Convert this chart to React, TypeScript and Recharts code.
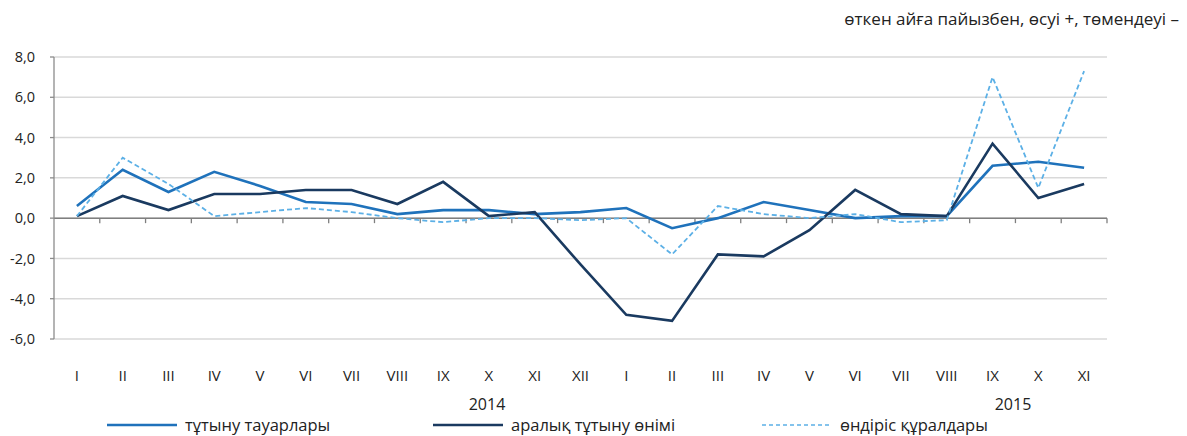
import React from 'react';
import {
  LineChart,
  Line,
  XAxis,
  YAxis,
  CartesianGrid,
  ReferenceLine,
} from 'recharts';

const MONTHS = ['I', 'II', 'III', 'IV', 'V', 'VI', 'VII', 'VIII', 'IX', 'X', 'XI', 'XII',
  'I', 'II', 'III', 'IV', 'V', 'VI', 'VII', 'VIII', 'IX', 'X', 'XI'];

// тұтыну тауарлары
const consumerGoods = [0.6, 2.4, 1.3, 2.3, 1.6, 0.8, 0.7, 0.2, 0.4, 0.4, 0.2, 0.3,
  0.5, -0.5, 0.0, 0.8, 0.4, 0.0, 0.1, 0.1, 2.6, 2.8, 2.5];
// аралық тұтыну өнімі
const intermediateGoods = [0.1, 1.1, 0.4, 1.2, 1.2, 1.4, 1.4, 0.7, 1.8, 0.1, 0.3, -2.3,
  -4.8, -5.1, -1.8, -1.9, -0.6, 1.4, 0.2, 0.1, 3.7, 1.0, 1.7];
// өндіріс құралдары
const capitalGoods = [0.1, 3.0, 1.7, 0.1, 0.3, 0.5, 0.3, 0.0, -0.2, 0.0, 0.0, -0.1,
  0.0, -1.8, 0.6, 0.2, 0.0, 0.2, -0.2, -0.1, 7.0, 1.5, 7.3];

const Y_TICKS = [-6, -4, -2, 0, 2, 4, 6, 8];

const SERIES_NAMES = ['тұтыну тауарлары', 'аралық тұтыну өнімі', 'өндіріс құралдары'];
const YEARS = ['2014', '2015'];
const UNIT_NOTE = 'өткен айға пайызбен, өсуі +, төмендеуі –';

const C_MID = '#1f72bb';
const C_DARK = '#1a3a60';
const C_LIGHT = '#5cb0e6';
const FONT = '"Open Sans", sans-serif';

const data = MONTHS.map((m, i) => ({
  key: `${i}-${m}`,
  consumer: consumerGoods[i],
  intermediate: intermediateGoods[i],
  capital: capitalGoods[i],
}));

const fmt = (v: number) => v.toFixed(1).replace('.', ',');

const MonthTick = (props: any) => {
  const { x, y, payload } = props;
  const label = String(payload.value).split('-')[1];
  return (
    <text x={x} y={y + 40} textAnchor="middle" fill="#222" fontSize={15} fontFamily={FONT}>
      {label}
    </text>
  );
};

// zero line with small tick marks between categories
const ZeroAxis = (p: any) => {
  const n = MONTHS.length;
  const step = (p.x2 - p.x1) / n;
  const marks = [];
  for (let k = 1; k <= n; k++) {
    const tx = p.x1 + k * step;
    marks.push(<line key={k} x1={tx} x2={tx} y1={p.y1} y2={p.y1 + 5} stroke="#7f7f7f" strokeWidth={1.3} />);
  }
  return (
    <g>
      <line x1={p.x1} x2={p.x2} y1={p.y1} y2={p.y2} stroke="#7f7f7f" strokeWidth={1.5} />
      {marks}
    </g>
  );
};

const LegendItem = ({ left, color, dashed, text }: any) => (
  <div style={{ position: 'absolute', left, top: 405, display: 'flex', alignItems: 'center' }}>
    <svg width={70} height={10}>
      <line x1={0} x2={70} y1={5} y2={5} stroke={color}
        strokeWidth={dashed ? 1.6 : 2.6} strokeDasharray={dashed ? '4 3' : undefined} />
    </svg>
    <span style={{ marginLeft: 8, fontSize: 16.5, color: '#222', fontFamily: FONT }}>{text}</span>
  </div>
);

const App: React.FC = () => {
  return (
    <div style={{ position: 'relative', width: 1171, height: 428, fontFamily: FONT }}>
      <div style={{ position: 'absolute', right: 0, top: -1, fontSize: 17, color: '#222' }}>
        {UNIT_NOTE}
      </div>
      <LineChart
        width={1171}
        height={428}
        data={data}
        margin={{ top: 49, right: 72, bottom: 67, left: 6 }}
      >
        <CartesianGrid vertical={false} stroke="#d9d9d9" strokeWidth={1.5} />
        <XAxis
          dataKey="key"
          scale="band"
          axisLine={false}
          tickLine={false}
          tickSize={0}
          tick={<MonthTick />}
          interval={0}
          height={30}
        />
        <YAxis
          domain={[-6, 8]}
          ticks={Y_TICKS}
          width={40}
          tickFormatter={fmt}
          axisLine={{ stroke: '#8c8c8c', strokeWidth: 1.3 }}
          tickLine={{ stroke: '#8c8c8c', strokeWidth: 1.3 }}
          tickSize={4}
          tickMargin={15}
          tick={{ fill: '#222', fontSize: 14.5, fontFamily: FONT }}
        />
        <ReferenceLine y={0} shape={ZeroAxis} />
        <Line
          dataKey="consumer"
          stroke={C_MID}
          strokeWidth={2.6}
          dot={false}
          isAnimationActive={false}
        />
        <Line
          dataKey="intermediate"
          stroke={C_DARK}
          strokeWidth={2.6}
          dot={false}
          isAnimationActive={false}
        />
        <Line
          dataKey="capital"
          stroke={C_LIGHT}
          strokeWidth={1.8}
          strokeDasharray="5 3"
          dot={false}
          isAnimationActive={false}
        />
      </LineChart>
      <div style={{ position: 'absolute', left: 479 - 25, top: 385, width: 50, textAlign: 'center', fontSize: 16, color: '#222' }}>
        {YEARS[0]}
      </div>
      <div style={{ position: 'absolute', left: 1005 - 25, top: 385, width: 50, textAlign: 'center', fontSize: 16, color: '#222' }}>
        {YEARS[1]}
      </div>
      <LegendItem left={99} color={C_MID} text={SERIES_NAMES[0]} />
      <LegendItem left={425} color={C_DARK} text={SERIES_NAMES[1]} />
      <LegendItem left={754} color={C_LIGHT} dashed text={SERIES_NAMES[2]} />
    </div>
  );
};

export default App;
